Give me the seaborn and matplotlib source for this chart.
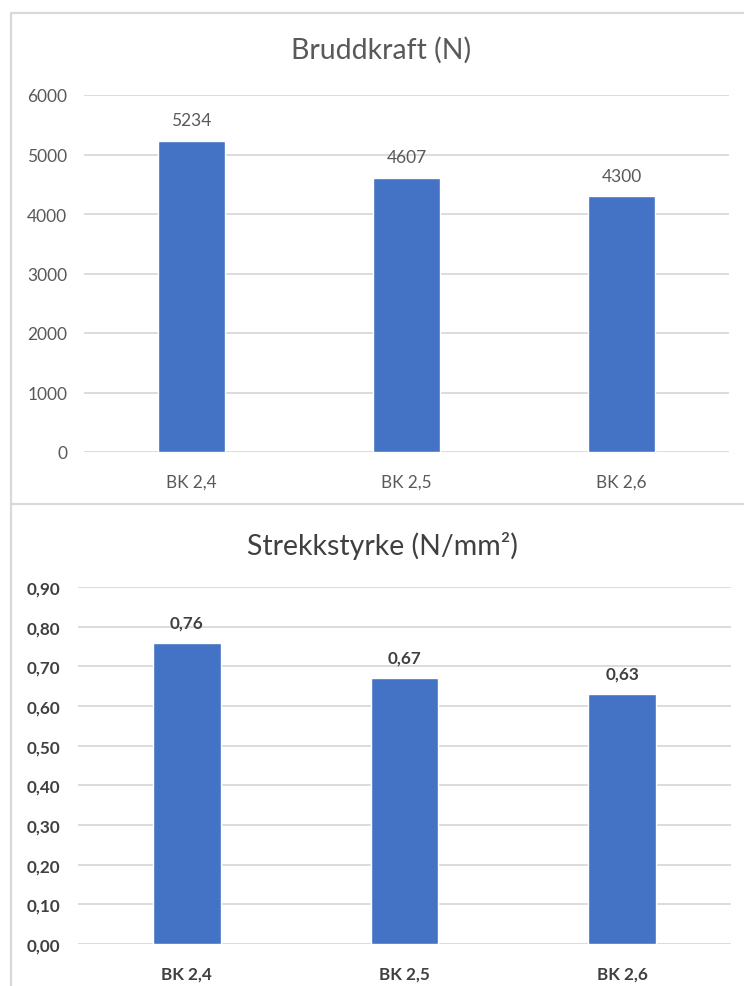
import matplotlib
matplotlib.use("Agg")
import matplotlib.pyplot as plt
from matplotlib.ticker import FuncFormatter, MultipleLocator
from matplotlib.lines import Line2D
import seaborn as sns
import pandas as pd

# Data
categories = ["BK 2,4", "BK 2,5", "BK 2,6"]
bruddkraft = [5234, 4607, 4300]
strekkstyrke = [0.76, 0.67, 0.63]

BAR = "#4472C4"
GRID = "#d9d9d9"
TXT = "#595959"
TXT_DARK = "#404040"

sns.set_theme(style="white")
plt.rcParams["font.family"] = ["Lato", "DejaVu Sans"]

W, H = 744, 987
fig = plt.figure(figsize=(W / 100, H / 100), dpi=100)
fig.patch.set_facecolor("white")


def px_axes(x0, y0, x1, y1):
    """Axes from pixel box (top-left origin)."""
    return fig.add_axes([x0 / W, 1 - y1 / H, (x1 - x0) / W, (y1 - y0) / H])


def comma(v, decimals):
    return f"{v:.{decimals}f}".replace(".", ",")


# Chart frames
frame_kw = dict(color=GRID, lw=1.6, transform=fig.transFigure)
fig.add_artist(Line2D([11 / W, 11 / W], [0, 1 - 14 / H], **frame_kw))
fig.add_artist(Line2D([11 / W, 1], [1 - 14 / H, 1 - 14 / H], **frame_kw))
fig.add_artist(Line2D([11 / W, 1], [1 - 505 / H, 1 - 505 / H], **frame_kw))


def style_axes(ax, ymax, step, fmt, color, weight, pad, ysize, xsize):
    ax.set_ylim(0, ymax)
    ax.yaxis.set_major_locator(MultipleLocator(step))
    ax.yaxis.set_major_formatter(FuncFormatter(fmt))
    ax.grid(axis="y", color=GRID, lw=1.3)
    ax.set_axisbelow(True)
    for s in ax.spines.values():
        s.set_visible(False)
    ax.tick_params(axis="y", length=0, pad=pad, labelsize=ysize, labelcolor=color)
    ax.tick_params(axis="x", length=0, pad=15.5, labelsize=xsize, labelcolor=color)
    for lbl in ax.get_yticklabels() + ax.get_xticklabels():
        lbl.set_fontweight(weight)
    ax.set_xlabel("")
    ax.set_ylabel("")
    ax.set_facecolor("none")


# Top chart: Bruddkraft
df1 = pd.DataFrame({"kat": categories, "verdi": bruddkraft})
ax1 = px_axes(84, 96, 729, 453)
sns.barplot(data=df1, x="kat", y="verdi", color=BAR, width=0.31, ax=ax1,
            saturation=1)
style_axes(ax1, 6000, 1000, lambda v, p: f"{v:.0f}", TXT, "normal", 12,
           12.5, 12.3)
ax1.set_xlim(-0.5, 2.5)
ax1.bar_label(ax1.containers[0], labels=[str(v) for v in bruddkraft],
              padding=9, fontsize=12.5, color=TXT)
fig.text(381 / W, 1 - 50 / H, "Bruddkraft (N)", ha="center", va="center",
         fontsize=20.5, color=TXT)

# Bottom chart: Strekkstyrke
df2 = pd.DataFrame({"kat": categories, "verdi": strekkstyrke})
ax2 = px_axes(78, 588, 731, 945)
sns.barplot(data=df2, x="kat", y="verdi", color=BAR, width=0.31, ax=ax2,
            saturation=1)
style_axes(ax2, 0.9, 0.1, lambda v, p: comma(v, 2), TXT_DARK, "bold", 13,
           12.3, 12.3)
ax2.set_xlim(-0.5, 2.5)
ax2.bar_label(ax2.containers[0], labels=[comma(v, 2) for v in strekkstyrke],
              padding=9, fontsize=12.3, color=TXT_DARK, fontweight="bold")
fig.text(382 / W, 1 - 546 / H, "Strekkstyrke (N/mm²)", ha="center",
         va="center", fontsize=20.5, color=TXT_DARK)

fig.savefig("out.png", dpi=100, facecolor="white")
